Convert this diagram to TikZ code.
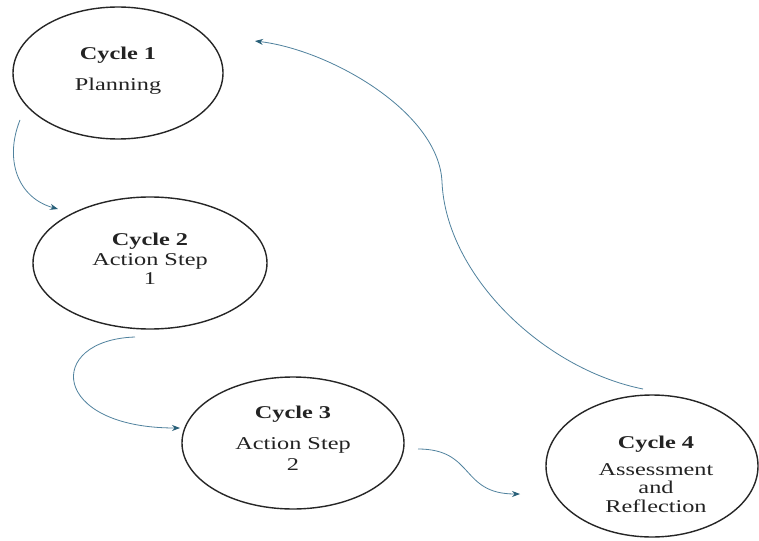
\documentclass[tikz,border=0pt]{standalone}
\usepackage{fontspec}
\setmainfont[FakeStretch=1.35]{Liberation Serif}
\usetikzlibrary{shapes.geometric,arrows.meta}
\definecolor{arrowc}{RGB}{80,130,158}
\definecolor{tipc}{RGB}{40,95,120}
\definecolor{textc}{RGB}{35,35,35}
\begin{document}
\begin{tikzpicture}[x=1pt,y=-1pt,
 cyc/.style={ellipse,draw=black!85,line width=1.4pt,inner sep=0pt},
 ttl/.style={anchor=base,font=\fontsize{18}{20}\selectfont\bfseries,text=textc,inner sep=0pt},
 txt/.style={anchor=base,font=\fontsize{18}{20}\selectfont,text=textc,inner sep=0pt},
 flow/.style={draw=arrowc,line width=0.8pt,-{Stealth[length=8pt,width=6pt,color=tipc]}}]
\useasboundingbox (0,0) rectangle (759,540);
\fill[white] (0,0) rectangle (759,540);

% cycles
\node[cyc,minimum width=210pt,minimum height=132pt] (c1) at (118,73) {};
\node[cyc,minimum width=234pt,minimum height=132pt] (c2) at (150,263) {};
\node[cyc,minimum width=222pt,minimum height=132pt] (c3) at (293,443) {};
\node[cyc,minimum width=212pt,minimum height=142pt] (c4) at (652,466) {};

% texts
\node[ttl] (t1a) at (118,60) {Cycle 1};
\node[txt] (t1b) at (118,91) {Planning};

\node[ttl] (t2a) at (150,245) {Cycle 2};
\node[txt] (t2b) at (150,265) {Action Step};
\node[txt] (t2c) at (150,284) {1};

\node[ttl] (t3a) at (293,418) {Cycle 3};
\node[txt] (t3b) at (293,449) {Action Step};
\node[txt] (t3c) at (293,470) {2};

\node[ttl] (t4a) at (656,448) {Cycle 4};
\node[txt] (t4b) at (656,475) {Assessment};
\node[txt] (t4c) at (656,493) {and};
\node[txt] (t4d) at (656,512) {Reflection};

% connector ends
\coordinate (a1s) at (20,120);
\coordinate (a1e) at (58,209);
\coordinate (a2s) at (135,337);
\coordinate (a2e) at (180,428);
\coordinate (a3s) at (418,449);
\coordinate (a3e) at (520,494);
\coordinate (a4s) at (643,389);
\coordinate (a4m) at (442,182);
\coordinate (a4e) at (255,41);

\draw[flow] (a1s) .. controls (4,160) and (18,198) .. (a1e);
\draw[flow] (a2s) .. controls (45,340) and (50,428) .. (a2e);
\draw[flow] (a3s) .. controls (475,449) and (460,494) .. (a3e);
\draw[flow] (a4s) .. controls (543,369) and (446,275) .. (a4m)
                 .. controls (439,112) and (330,50) .. (a4e);
\end{tikzpicture}
\end{document}
